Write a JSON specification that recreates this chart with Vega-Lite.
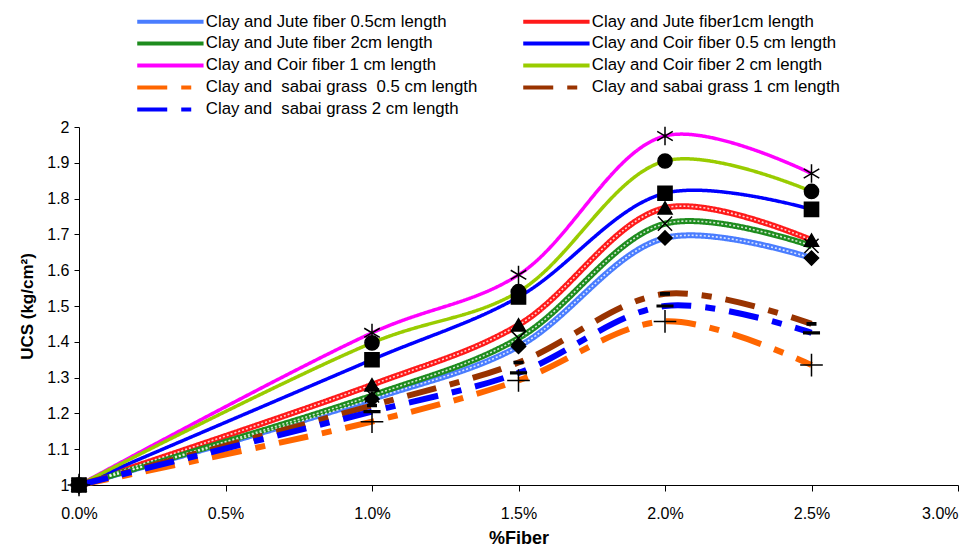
{
  "$schema": "https://vega.github.io/schema/vega-lite/v6.json",
  "width": 879,
  "height": 358,
  "autosize": {"type": "none"},
  "padding": {"left": 79, "top": 127, "right": 11, "bottom": 67},
  "background": "white",
  "config": {
    "view": {"stroke": null},
    "font": "Liberation Sans",
    "axis": {"grid": false, "domainColor": "black", "tickColor": "black", "labelColor": "black", "titleColor": "black", "labelFont": "Liberation Sans", "titleFont": "Liberation Sans", "labelFontSize": 16, "titleFontSize": 17, "titleFontWeight": "bold", "domainWidth": 1, "tickWidth": 1}
  },
  "resolve": {"legend": {"shape": "independent"}},
  "data": {"values": [
    {"s": "Clay and Jute fiber 0.5cm length", "t": "jute", "x": 0, "y": 1},
    {"s": "Clay and Jute fiber 0.5cm length", "t": "jute", "x": 0.01, "y": 1.24},
    {"s": "Clay and Jute fiber 0.5cm length", "t": "jute", "x": 0.015, "y": 1.387},
    {"s": "Clay and Jute fiber 0.5cm length", "t": "jute", "x": 0.02, "y": 1.69},
    {"s": "Clay and Jute fiber 0.5cm length", "t": "jute", "x": 0.025, "y": 1.634},
    {"s": "Clay and Jute fiber1cm length", "t": "jute", "x": 0, "y": 1},
    {"s": "Clay and Jute fiber1cm length", "t": "jute", "x": 0.01, "y": 1.28},
    {"s": "Clay and Jute fiber1cm length", "t": "jute", "x": 0.015, "y": 1.447},
    {"s": "Clay and Jute fiber1cm length", "t": "jute", "x": 0.02, "y": 1.774},
    {"s": "Clay and Jute fiber1cm length", "t": "jute", "x": 0.025, "y": 1.684},
    {"s": "Clay and Jute fiber 2cm length", "t": "jute", "x": 0, "y": 1},
    {"s": "Clay and Jute fiber 2cm length", "t": "jute", "x": 0.01, "y": 1.25},
    {"s": "Clay and Jute fiber 2cm length", "t": "jute", "x": 0.015, "y": 1.41},
    {"s": "Clay and Jute fiber 2cm length", "t": "jute", "x": 0.02, "y": 1.73},
    {"s": "Clay and Jute fiber 2cm length", "t": "jute", "x": 0.025, "y": 1.668},
    {"s": "Clay and Coir fiber 0.5 cm length", "t": "coir", "x": 0, "y": 1},
    {"s": "Clay and Coir fiber 0.5 cm length", "t": "coir", "x": 0.01, "y": 1.35},
    {"s": "Clay and Coir fiber 0.5 cm length", "t": "coir", "x": 0.015, "y": 1.525},
    {"s": "Clay and Coir fiber 0.5 cm length", "t": "coir", "x": 0.02, "y": 1.815},
    {"s": "Clay and Coir fiber 0.5 cm length", "t": "coir", "x": 0.025, "y": 1.77},
    {"s": "Clay and Coir fiber 1 cm length", "t": "coir", "x": 0, "y": 1},
    {"s": "Clay and Coir fiber 1 cm length", "t": "coir", "x": 0.01, "y": 1.425},
    {"s": "Clay and Coir fiber 1 cm length", "t": "coir", "x": 0.015, "y": 1.587},
    {"s": "Clay and Coir fiber 1 cm length", "t": "coir", "x": 0.02, "y": 1.975},
    {"s": "Clay and Coir fiber 1 cm length", "t": "coir", "x": 0.025, "y": 1.87},
    {"s": "Clay and Coir fiber 2 cm length", "t": "coir", "x": 0, "y": 1},
    {"s": "Clay and Coir fiber 2 cm length", "t": "coir", "x": 0.01, "y": 1.397},
    {"s": "Clay and Coir fiber 2 cm length", "t": "coir", "x": 0.015, "y": 1.54},
    {"s": "Clay and Coir fiber 2 cm length", "t": "coir", "x": 0.02, "y": 1.905},
    {"s": "Clay and Coir fiber 2 cm length", "t": "coir", "x": 0.025, "y": 1.82},
    {"s": "Clay and\u00a0 sabai grass\u00a0 0.5 cm length", "t": "sabai", "x": 0, "y": 1},
    {"s": "Clay and\u00a0 sabai grass\u00a0 0.5 cm length", "t": "sabai", "x": 0.01, "y": 1.177},
    {"s": "Clay and\u00a0 sabai grass\u00a0 0.5 cm length", "t": "sabai", "x": 0.015, "y": 1.292},
    {"s": "Clay and\u00a0 sabai grass\u00a0 0.5 cm length", "t": "sabai", "x": 0.02, "y": 1.457},
    {"s": "Clay and\u00a0 sabai grass\u00a0 0.5 cm length", "t": "sabai", "x": 0.025, "y": 1.335},
    {"s": "Clay and sabai grass 1 cm length", "t": "sabai", "x": 0, "y": 1},
    {"s": "Clay and sabai grass 1 cm length", "t": "sabai", "x": 0.01, "y": 1.222},
    {"s": "Clay and sabai grass 1 cm length", "t": "sabai", "x": 0.015, "y": 1.342},
    {"s": "Clay and sabai grass 1 cm length", "t": "sabai", "x": 0.02, "y": 1.534},
    {"s": "Clay and sabai grass 1 cm length", "t": "sabai", "x": 0.025, "y": 1.45},
    {"s": "Clay and\u00a0 sabai grass 2 cm length", "t": "sabai", "x": 0, "y": 1},
    {"s": "Clay and\u00a0 sabai grass 2 cm length", "t": "sabai", "x": 0.01, "y": 1.205},
    {"s": "Clay and\u00a0 sabai grass 2 cm length", "t": "sabai", "x": 0.015, "y": 1.313},
    {"s": "Clay and\u00a0 sabai grass 2 cm length", "t": "sabai", "x": 0.02, "y": 1.5},
    {"s": "Clay and\u00a0 sabai grass 2 cm length", "t": "sabai", "x": 0.025, "y": 1.425}
  ]},
  "encoding": {
    "x": {"field": "x", "type": "quantitative", "scale": {"domain": [0, 0.03], "nice": false}, "axis": {"values": [0, 0.005, 0.01, 0.015, 0.02, 0.025, 0.03], "format": ".1%", "title": "%Fiber", "tickSize": 6, "labelPadding": 14, "titlePadding": 8, "labelFlush": false, "labelFontSize": 16, "titleFontSize": 18, "labelAlign": {"expr": "datum.value > 0.029 ? 'right' : 'center'"}, "labelDx": {"expr": "datum.value > 0.029 ? 10 : 0"}}},
    "y": {"field": "y", "type": "quantitative", "scale": {"domain": [1, 2], "nice": false, "zero": false}, "axis": {"values": [1, 1.1, 1.2, 1.3, 1.4, 1.5, 1.6, 1.7, 1.8, 1.9, 2], "format": ".1~f", "title": "UCS (kg/cm\u00b2)", "tickSize": 5, "labelPadding": 5, "titlePadding": 10}}
  },
  "layer": [
    {
      "transform": [{"filter": "datum.t === 'jute'"}],
      "mark": {"type": "line", "interpolate": "catmull-rom", "strokeWidth": 6},
      "encoding": {
        "color": {"field": "s", "type": "nominal", "scale": {"domain": ["Clay and Jute fiber 0.5cm length", "Clay and Jute fiber1cm length", "Clay and Jute fiber 2cm length", "Clay and Coir fiber 0.5 cm length", "Clay and Coir fiber 1 cm length", "Clay and Coir fiber 2 cm length", "Clay and\u00a0 sabai grass\u00a0 0.5 cm length", "Clay and sabai grass 1 cm length", "Clay and\u00a0 sabai grass 2 cm length"], "range": ["#4A7DFF", "#FF1A1A", "#1E8C1E", "#0000FF", "#FF00FF", "#99CC00", "#FF6600", "#993300", "#0000FF"]},
          "legend": {"orient": "none", "legendX": 83, "legendY": -114, "columns": 2, "direction": "horizontal", "columnPadding": 37, "rowPadding": 4, "title": null, "symbolType": "M-10,0H10", "symbolSize": 44, "symbolStrokeWidth": 4, "labelFontSize": 16.8, "labelFont": "Liberation Sans", "labelColor": "black", "labelLimit": 400, "labelOffset": 27}},
        "strokeDash": {"field": "s", "type": "nominal", "scale": {"domain": ["Clay and Jute fiber 0.5cm length", "Clay and Jute fiber1cm length", "Clay and Jute fiber 2cm length", "Clay and Coir fiber 0.5 cm length", "Clay and Coir fiber 1 cm length", "Clay and Coir fiber 2 cm length", "Clay and\u00a0 sabai grass\u00a0 0.5 cm length", "Clay and sabai grass 1 cm length", "Clay and\u00a0 sabai grass 2 cm length"], "range": [[1, 0], [1, 0], [1, 0], [1, 0], [1, 0], [1, 0], [30, 14, 10, 14], [30, 14, 10, 14], [30, 14, 10, 14]]}}
      }
    },
    {
      "transform": [{"filter": "datum.t === 'jute'"}],
      "mark": {"type": "line", "interpolate": "catmull-rom", "strokeWidth": 1.6, "color": "white", "strokeDash": [2, 2], "opacity": 0.8},
      "encoding": {"detail": {"field": "s", "type": "nominal"}}
    },
    {
      "transform": [{"filter": "datum.t === 'coir'"}],
      "mark": {"type": "line", "interpolate": "catmull-rom", "strokeWidth": 3.5},
      "encoding": {
        "color": {"field": "s", "type": "nominal"},
        "strokeDash": {"field": "s", "type": "nominal"}
      }
    },
    {
      "transform": [{"filter": "datum.t === 'sabai'"}],
      "mark": {"type": "line", "interpolate": "catmull-rom", "strokeWidth": 6},
      "encoding": {
        "color": {"field": "s", "type": "nominal"},
        "strokeDash": {"field": "s", "type": "nominal"}
      }
    },
    {
      "mark": {"type": "point", "filled": true, "color": "black", "stroke": "black", "strokeWidth": 1.5, "size": 200, "opacity": 1},
      "encoding": {
        "shape": {"field": "s", "type": "nominal", "legend": null, "scale": {"domain": ["Clay and Jute fiber 0.5cm length", "Clay and Jute fiber1cm length", "Clay and Jute fiber 2cm length", "Clay and Coir fiber 0.5 cm length", "Clay and Coir fiber 1 cm length", "Clay and Coir fiber 2 cm length", "Clay and\u00a0 sabai grass\u00a0 0.5 cm length", "Clay and sabai grass 1 cm length", "Clay and\u00a0 sabai grass 2 cm length"], "range": ["diamond", "triangle-up", "M-1,-1L1,1M-1,1L1,-1", "square", "M0,-1.3V1.3M-1.1,-0.65L1.1,0.65M-1.1,0.65L1.1,-0.65", "circle", "M-1.6,0H1.6M0,-1.6V1.6", "M-0.6,-0.15H0.6V0.15H-0.6Z", "M-1.1,-0.12H1.1V0.12H-1.1Z"]}}
      }
    }
  ]
}
